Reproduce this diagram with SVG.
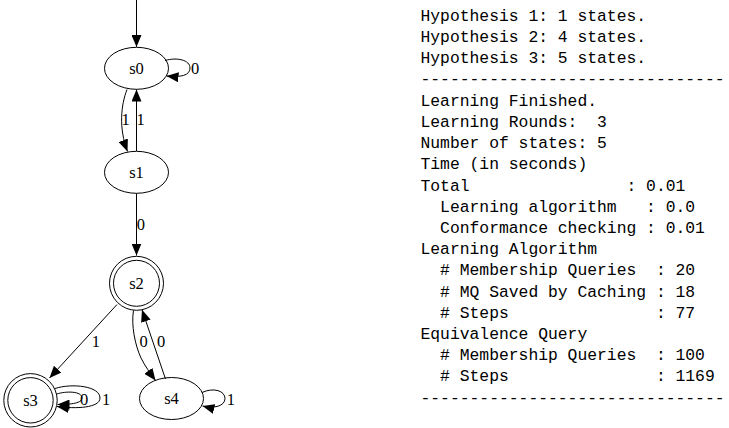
<svg xmlns="http://www.w3.org/2000/svg" width="729" height="428" viewBox="0 0 729 428">
<style>
.n{fill:none;stroke:#000;stroke-width:1}
.e{fill:none;stroke:#000;stroke-width:1;marker-end:url(#ah)}
.lb{font-family:"Liberation Serif","Times New Roman",serif;font-size:16.5px;fill:#000;text-anchor:middle}
.log{font-family:"Liberation Mono","Courier New",monospace;font-size:16.35px;fill:#000;white-space:pre}
</style>
<defs>
<marker id="ah" markerUnits="userSpaceOnUse" markerWidth="12" markerHeight="10" viewBox="0 0 12 10" refX="12" refY="5" orient="auto">
<path d="M0,0 L12,5 L0,10 z" fill="#000"/>
</marker>
</defs>
<rect width="729" height="428" fill="#fff"/>
<g id="connectors">
<path class="e" d="M136.5,0 L136.5,47"/>
<path class="e" d="M165,60.5 C177,57 190,60 190,68 C190,75.5 181,77.5 166.5,76"/>
<text class="lb" x="195" y="74">0</text>
<path class="e" d="M127,89.5 C121,105 118.5,128 127.5,151.5"/>
<text class="lb" x="125.5" y="125">1</text>
<path class="e" d="M136.5,151 L136.5,89.5"/>
<text class="lb" x="140.5" y="125">1</text>
<path class="e" d="M136.5,193.5 L136.5,255.5"/>
<text class="lb" x="140.8" y="229.5">0</text>
<path class="e" d="M117,304.5 L49.5,378"/>
<text class="lb" x="95.8" y="346.5">1</text>
<path class="e" d="M133.5,310.5 C131,325 135,345 141,358 C145,366 150,373 155.5,380.5"/>
<text class="lb" x="143.7" y="346.5">0</text>
<path class="e" d="M165.5,379 L142,309.8"/>
<text class="lb" x="161" y="346.5">0</text>
<path class="e" d="M56.8,394 C66,391 82,391 82,398 C82,403 72,404.5 57.5,404.5"/>
<text class="lb" x="84.2" y="405">0</text>
<path class="e" d="M55,388.5 C72,383 100,386 100,398 C100,408 76,409 57,406.5"/>
<text class="lb" x="106" y="405">1</text>
<path class="e" d="M202,392.5 C214,387 225,391 225,398.5 C225,406 214,409 202.5,406"/>
<text class="lb" x="230.8" y="404.5">1</text>
</g>
<g id="s0"><ellipse class="n" cx="136.5" cy="68.3" rx="32" ry="21"/><text class="lb" x="136.5" y="73.8">s0</text></g>
<g id="s1"><ellipse class="n" cx="136.5" cy="172.3" rx="32" ry="21"/><text class="lb" x="136.5" y="177.8">s1</text></g>
<g id="s2"><circle class="n" cx="136.5" cy="283.3" r="27"/><circle class="n" cx="136.5" cy="283.3" r="23"/><text class="lb" x="136.5" y="288.8">s2</text></g>
<g id="s3"><circle class="n" cx="30.5" cy="400.3" r="26.7"/><circle class="n" cx="30.5" cy="400.3" r="22.7"/><text class="lb" x="30.5" y="405.8">s3</text></g>
<g id="s4"><ellipse class="n" cx="171.5" cy="398.5" rx="32" ry="21"/><text class="lb" x="171.5" y="404">s4</text></g>
<g id="log" class="log" xml:space="preserve">
<text xml:space="preserve" x="420.5" y="20.7">Hypothesis 1: 1 states.</text>
<text xml:space="preserve" x="420.5" y="41.9">Hypothesis 2: 4 states.</text>
<text xml:space="preserve" x="420.5" y="63.1">Hypothesis 3: 5 states.</text>
<text xml:space="preserve" x="420.5" y="84.4">-------------------------------</text>
<text xml:space="preserve" x="420.5" y="105.6">Learning Finished.</text>
<text xml:space="preserve" x="420.5" y="126.8">Learning Rounds:  3</text>
<text xml:space="preserve" x="420.5" y="148">Number of states: 5</text>
<text xml:space="preserve" x="420.5" y="169.2">Time (in seconds)</text>
<text xml:space="preserve" x="420.5" y="190.5">Total                : 0.01</text>
<text xml:space="preserve" x="420.5" y="211.7">  Learning algorithm   : 0.0</text>
<text xml:space="preserve" x="420.5" y="232.9">  Conformance checking : 0.01</text>
<text xml:space="preserve" x="420.5" y="254.1">Learning Algorithm</text>
<text xml:space="preserve" x="420.5" y="275.3">  # Membership Queries  : 20</text>
<text xml:space="preserve" x="420.5" y="296.6">  # MQ Saved by Caching : 18</text>
<text xml:space="preserve" x="420.5" y="317.8">  # Steps               : 77</text>
<text xml:space="preserve" x="420.5" y="339">Equivalence Query</text>
<text xml:space="preserve" x="420.5" y="360.2">  # Membership Queries  : 100</text>
<text xml:space="preserve" x="420.5" y="381.4">  # Steps               : 1169</text>
<text xml:space="preserve" x="420.5" y="402.7">-------------------------------</text>
</g>
</svg>
